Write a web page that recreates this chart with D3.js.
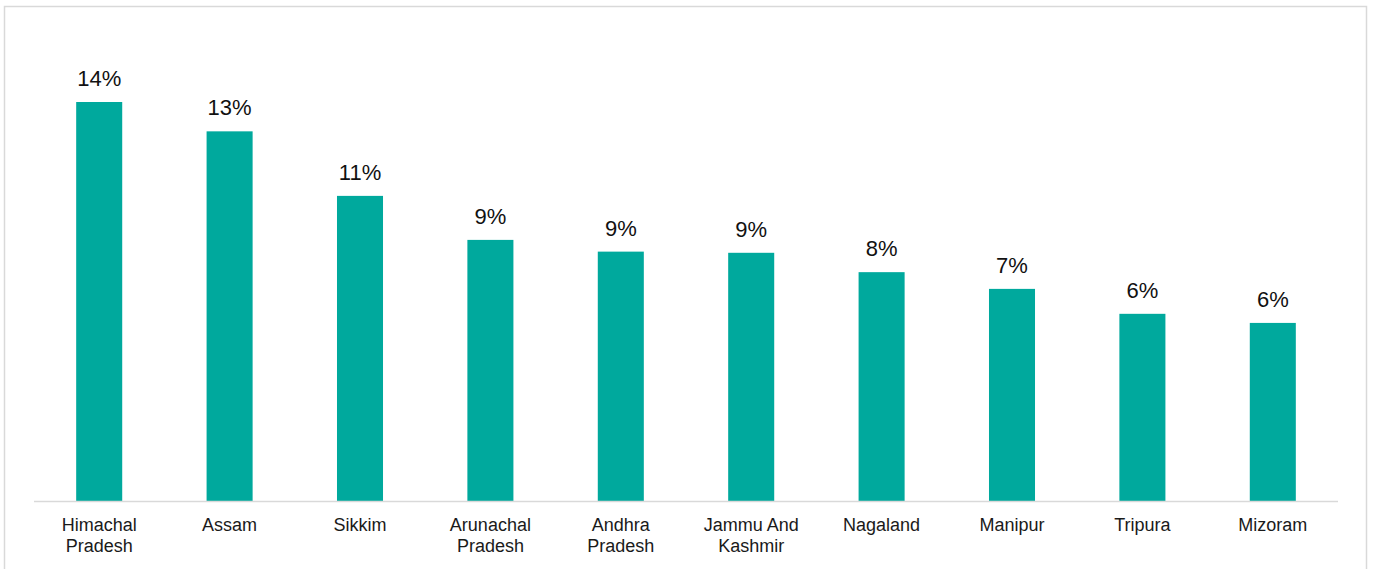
<!DOCTYPE html>
<html lang="en">
<head>
<meta charset="UTF-8">
<title>States</title>
<script src="https://d3js.org/d3.v7.min.js"></script>
<style>
  body { margin: 0; background: white; }
  svg { display: block; }
  .label { font-family: "Liberation Sans", Arial, sans-serif; font-size: 22px; fill: #111; }
  .cat { font-family: "Liberation Sans", Arial, sans-serif; font-size: 18px; fill: #1a1a1a; }
</style>
</head>
<body>
<script>
  // chart data
  const states = ["Himachal Pradesh", "Assam", "Sikkim", "Arunachal Pradesh", "Andhra Pradesh",
                  "Jammu And Kashmir", "Nagaland", "Manipur", "Tripura", "Mizoram"];
  const shares = [0.136, 0.126, 0.104, 0.089, 0.085, 0.0846, 0.078, 0.0723, 0.0638, 0.0607];
  const labels = ["14%", "13%", "11%", "9%", "9%", "9%", "8%", "7%", "6%", "6%"];

  const width = 1373, height = 569;
  const margins = { top: 102, bottom: 68, left: 34, right: 35 };

  const svg = d3.select("body").append("svg")
    .attr("width", width).attr("height", height);

  // outer frame
  svg.append("rect")
    .attr("x", 4.5).attr("y", 6.5)
    .attr("width", 1362).attr("height", 580)
    .attr("fill", "none").attr("stroke", "#d9d9d9").attr("stroke-width", 1.5);

  const xScale = d3.scaleBand()
    .domain(states)
    .range([margins.left, width - margins.right])
    .paddingInner(0.647).paddingOuter(0.3235);

  const yScale = d3.scaleLinear()
    .domain([0, d3.max(shares)])
    .range([height - margins.bottom, margins.top]);

  const data = states.map((s, i) => ({ state: s, value: shares[i], label: labels[i] }));

  // bars
  svg.append("g").selectAll("rect")
    .data(data).enter().append("rect")
    .attr("x", d => xScale(d.state))
    .attr("y", d => yScale(d.value))
    .attr("width", xScale.bandwidth())
    .attr("height", d => yScale(0) - yScale(d.value))
    .attr("fill", "#00a99d");

  // baseline
  svg.append("line")
    .attr("x1", margins.left).attr("x2", width - margins.right)
    .attr("y1", yScale(0) + 0.5).attr("y2", yScale(0) + 0.5)
    .attr("stroke", "#d9d9d9").attr("stroke-width", 1.5);

  // value labels
  svg.append("g").selectAll("text")
    .data(data).enter().append("text")
    .attr("class", "label")
    .attr("x", d => xScale(d.state) + xScale.bandwidth() / 2)
    .attr("y", d => yScale(d.value) - 16)
    .attr("text-anchor", "middle")
    .text(d => d.label);

  // category labels, wrapped after the second word
  const cats = svg.append("g").selectAll("text")
    .data(data).enter().append("text")
    .attr("class", "cat")
    .attr("text-anchor", "middle")
    .attr("x", d => xScale(d.state) + xScale.bandwidth() / 2)
    .attr("y", yScale(0) + 30);

  cats.each(function(d) {
    const words = d.state.split(" ");
    let lines;
    if (words.length <= 2) lines = words;
    else lines = [words.slice(0, 2).join(" "), words.slice(2).join(" ")];
    const t = d3.select(this);
    lines.forEach((ln, i) => {
      t.append("tspan")
        .attr("x", xScale(d.state) + xScale.bandwidth() / 2)
        .attr("dy", i === 0 ? 0 : 21)
        .text(ln);
    });
  });
</script>
</body>
</html>
